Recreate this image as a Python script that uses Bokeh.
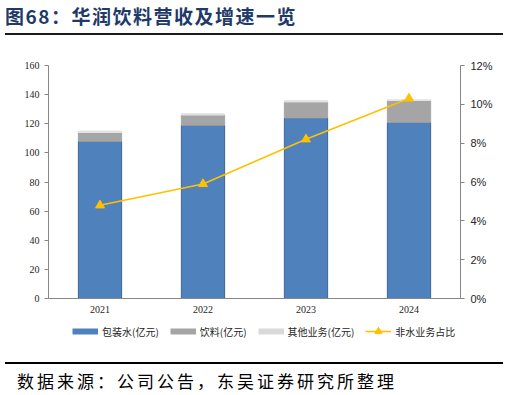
from bokeh.plotting import figure
from bokeh.models import (ColumnDataSource, FactorRange, Range1d, LinearAxis, FixedTicker,
                          NumeralTickFormatter, Legend, LegendItem, Div)
from bokeh.layouts import column
from bokeh.embed import file_html
from bokeh.resources import INLINE

years = ["2021", "2022", "2023", "2024"]
water = [108, 119, 124, 121]      # 包装水(亿元)
drinks = [6, 7, 11, 15]           # 饮料(亿元)
other = [1, 1, 1, 0.5]            # 其他业务(亿元)
nonwater_share = [0.048, 0.059, 0.082, 0.103]  # 非水业务占比

left_ticks = [0, 20, 40, 60, 80, 100, 120, 140, 160]
right_ticks = [0, 0.02, 0.04, 0.06, 0.08, 0.10, 0.12]

series_labels = ["包装水(亿元)", "饮料(亿元)", "其他业务(亿元)", "非水业务占比"]
title_text = "图68：华润饮料营收及增速一览"
source_text = "数据来源：公司公告，东吴证券研究所整理"

fills = ["#4F81BD", "#A5A5A5", "#D9D9D9"]
line_col = "#FFC000"

src = ColumnDataSource(dict(year=years, water=water, drinks=drinks, other=other, share=nonwater_share))

# ---------------- main chart ----------------
p = figure(width=509, height=284, x_range=FactorRange(factors=years), y_range=Range1d(0, 160),
           output_backend="svg", toolbar_location=None, min_border_left=48, min_border_right=49,
           min_border_top=29, min_border_bottom=22, margin=0)
p.outline_line_color = None
p.xgrid.visible = False
p.ygrid.visible = False
p.extra_y_ranges = {"pct": Range1d(0, 0.12)}

bars = p.vbar_stack(["water", "drinks", "other"], x="year", width=0.42, source=src,
                    fill_color=fills, line_color=["#3B6596", "#A5A5A5", "#E6E6E6"], line_width=1)
ln = p.line(x="year", y="share", source=src, y_range_name="pct", line_color=line_col, line_width=1.6)
mk = p.scatter(x="year", y="share", source=src, y_range_name="pct", marker="triangle", size=9,
               fill_color=line_col, line_color=line_col)

ax = p.xaxis[0]
ax.axis_line_color = "#868686"
ax.major_tick_line_color = None
ax.major_tick_out = 0
ax.major_tick_in = 0
ax.minor_tick_line_color = None
ax.major_label_text_font = "Liberation Serif"
ax.major_label_text_font_size = "10px"
ax.major_label_text_color = "#262626"
ax.major_label_standoff = 7

ay = p.yaxis[0]
ay.ticker = FixedTicker(ticks=left_ticks)
ay.axis_line_color = "#868686"
ay.major_tick_line_color = "#868686"
ay.major_tick_in = 0
ay.major_tick_out = 4
ay.minor_tick_line_color = None
ay.major_label_text_font = "Liberation Serif"
ay.major_label_text_font_size = "10px"
ay.major_label_text_color = "#262626"
ay.major_label_standoff = 5

ry = LinearAxis(y_range_name="pct", ticker=FixedTicker(ticks=right_ticks),
                formatter=NumeralTickFormatter(format="0%"))
ry.axis_line_color = "#868686"
ry.major_tick_line_color = "#868686"
ry.major_tick_in = 0
ry.major_tick_out = 4
ry.minor_tick_line_color = None
ry.major_label_text_font = "Liberation Sans"
ry.major_label_text_font_size = "11px"
ry.major_label_text_color = "#262626"
ry.major_label_standoff = 6
p.add_layout(ry, "right")

# ---------------- legend strip ----------------
# legend keys are drawn by renderers of the same series whose data lies outside this strip's view
lf = figure(width=509, height=22, x_range=FactorRange(factors=years), y_range=Range1d(1000, 1001),
            output_backend="svg", toolbar_location=None, x_axis_location=None, y_axis_location=None,
            min_border=0, min_border_left=48, min_border_right=49, margin=0)
lf.outline_line_color = None
lf.xgrid.visible = False
lf.ygrid.visible = False
keys = [lf.line(x="year", y=col, source=src, line_color=c, line_width=6)
        for col, c in zip(["water", "drinks", "other"], fills)]
kl = lf.line(x="year", y="water", source=src, line_color=line_col, line_width=1.6)
km = lf.scatter(x="year", y="water", source=src, marker="triangle", fill_color=line_col, line_color=line_col)

lg = Legend(items=[LegendItem(label=series_labels[0], renderers=[keys[0]]),
                   LegendItem(label=series_labels[1], renderers=[keys[1]]),
                   LegendItem(label=series_labels[2], renderers=[keys[2]]),
                   LegendItem(label=series_labels[3], renderers=[kl, km])],
            orientation="horizontal", location=(24, 2), glyph_width=26, glyph_height=18,
            label_height=12, label_standoff=4, spacing=11, padding=0, margin=0,
            label_text_font="Noto Sans CJK SC", label_text_font_size="10px", label_text_color="#262626",
            background_fill_alpha=0, border_line_color=None)
lf.add_layout(lg)

# ---------------- title & source ----------------
title_div = Div(width=509, height=36, margin=0, text=(
    '<div style="position:relative;width:509px;height:36px;">'
    '<div style="position:absolute;left:5px;top:5px;font-family:\'Noto Sans CJK SC\';font-size:19px;'
    'font-weight:bold;color:#1F3A68;line-height:22px;letter-spacing:1.5px;white-space:nowrap;">'
    + title_text + '</div>'
    '<div style="position:absolute;left:5px;top:33px;width:498px;height:2px;background:#1a1a1a;"></div>'
    '</div>'))

source_div = Div(width=509, height=53, margin=0, text=(
    '<div style="position:relative;width:509px;height:53px;">'
    '<div style="position:absolute;left:5px;top:20px;width:498px;height:2px;background:#000;"></div>'
    '<div style="position:absolute;left:17px;top:29px;font-family:\'Noto Sans CJK SC\';font-size:17px;'
    'color:#000;line-height:20px;letter-spacing:3px;white-space:nowrap;">'
    + source_text + '</div>'
    '</div>'))

layout = column(title_div, p, lf, source_div, spacing=0, margin=0)

open("out.html", "w").write(file_html(layout, INLINE))
